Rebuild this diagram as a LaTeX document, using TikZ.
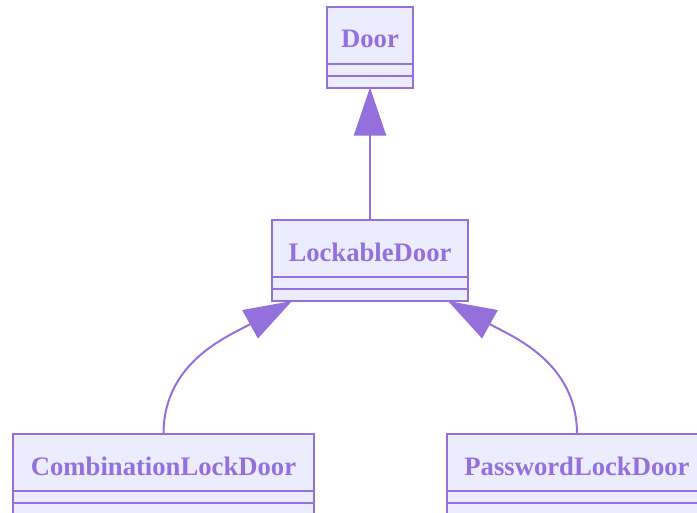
\documentclass[tikz,border=0pt]{standalone}
\usepackage{fontspec}
\setmainfont{Liberation Serif}
\usetikzlibrary{positioning,arrows.meta}
\definecolor{umlline}{HTML}{9370DB}
\definecolor{umlfill}{HTML}{ECECFF}

\begin{document}
\begin{tikzpicture}[x=0.75pt,y=-0.75pt,line width=1.5pt]
    \tikzstyle{part}=[rectangle,draw=umlline,fill=umlfill,outer sep=0pt,inner sep=0pt,minimum height=12*0.75pt]
    \tikzstyle{head}=[part,text=umlline,font=\bfseries\fontsize{20}{22}\selectfont,
        text height=19pt,text depth=0pt,minimum height=57*0.75pt]
    \tikzstyle{inherit}=[draw=umlline,-{Triangle[length=36pt,width=24pt]}]

    \useasboundingbox (0,0) rectangle (697,512);
    \clip (0,0) rectangle (697,512);

    \foreach \name/\txt/\x/\y/\w in {door/Door/370/35/86, lock/LockableDoor/370/248.5/196,
            combo/CombinationLockDoor/163.5/462.5/301, pass/PasswordLockDoor/577/462.5/260} {
        \node[head,minimum width=\w*0.75pt] (\name) at (\x,\y) {\txt};
        \node[part,minimum width=\w*0.75pt,below=0pt of \name] (\name-a) {};
        \node[part,minimum width=\w*0.75pt,below=0pt of \name-a] (\name-b) {};
    }

    \coordinate (lock-l) at ([xshift=20*0.75pt]lock-b.south west);
    \coordinate (lock-r) at ([xshift=-20*0.75pt]lock-b.south east);

    \draw[inherit] (lock) -- (door-b);
    \draw[inherit] (combo.north) to[out=90,in=209] (lock-l);
    \draw[inherit] (pass.north) to[out=90,in=-29] (lock-r);
\end{tikzpicture}
\end{document}
